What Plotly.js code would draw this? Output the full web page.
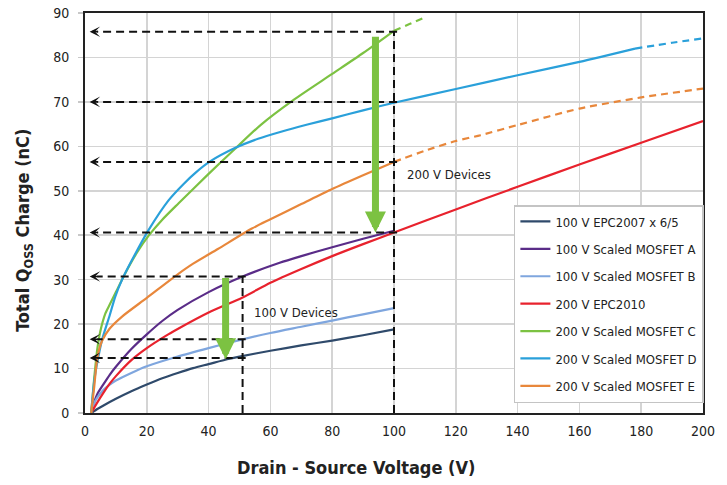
<!DOCTYPE html>
<html>
<head>
<meta charset="utf-8">
<script src="https://cdn.plot.ly/plotly-3.0.1.min.js"></script>
<style>html,body{margin:0;padding:0;background:#fff;}#chart{width:727px;height:485px;}</style>
</head>
<body>
<div id="chart"></div>
<script>
// ---- Data ----
const names = ["100 V EPC2007 x 6/5", "100 V Scaled MOSFET A", "100 V Scaled MOSFET B",
  "200 V EPC2010", "200 V Scaled MOSFET C", "200 V Scaled MOSFET D", "200 V Scaled MOSFET E"];

const epc2007X = [2, 4, 6, 10, 15, 20, 25, 30, 35, 40, 46, 50, 60, 70, 80, 90, 100];
const epc2007Y = [0, 0.9, 1.7, 3.2, 4.9, 6.4, 7.8, 9, 10.1, 11, 12.1, 12.7, 14, 15.2, 16.3, 17.5, 18.8];

const mosAX = [2, 3, 4, 6, 8, 10, 15, 20, 25, 30, 40, 51, 63, 70, 80, 90, 100];
const mosAY = [0, 2.5, 4.3, 6.5, 8.6, 10.4, 14.4, 17.7, 20.7, 23.2, 27.2, 30.7, 33.8, 35.3, 37.3, 39.2, 41];

const mosBX = [2, 3, 4, 6, 8, 10, 15, 20, 30, 40, 50, 60, 70, 80, 90, 100];
const mosBY = [0, 2.2, 3.5, 5.2, 6.4, 7.3, 9, 10.5, 12.7, 14.6, 16.4, 18, 19.4, 20.8, 22.2, 23.6];

const epc2010X = [2, 3, 4, 6, 8, 10, 15, 20, 26, 30, 40, 51, 60, 70, 80, 90, 100, 120, 140, 160, 180, 200];
const epc2010Y = [0, 1.2, 2.4, 4.6, 6.6, 8.3, 11.9, 14.6, 17.3, 18.9, 22.6, 26, 29.3, 32.4, 35.3, 38, 40.6, 45.8, 50.9, 55.9, 60.8, 65.7];

const mosCX = [2, 3, 4, 5, 6.6, 8, 10, 13, 17, 20.6, 25, 30.3, 40, 48.5, 57, 67.4, 80, 90, 100];
const mosCY = [0, 8, 14.5, 18.5, 22.4, 24.4, 27.2, 31.4, 36.3, 39.9, 43.5, 47.2, 53.8, 59.4, 64.9, 70.4, 76.3, 81, 86];
const mosCExtX = [100, 105, 110];
const mosCExtY = [86, 87.5, 89];

const mosDX = [2, 3, 4, 5.5, 8, 9.8, 12, 15.2, 20.6, 27.1, 32, 36, 40.5, 48.5, 56, 64, 72, 80, 90, 100, 120, 140, 160, 178];
const mosDY = [0, 7.3, 11.5, 16.4, 22, 26.2, 30, 34.4, 41.2, 47.9, 51.6, 54.2, 56.6, 59.6, 61.7, 63.4, 64.9, 66.3, 68.1, 69.8, 72.9, 76, 79, 82];
const mosDExtX = [178, 190, 200];
const mosDExtY = [82, 83.3, 84.3];

const mosEX = [2, 3, 4, 5.5, 8, 12, 20, 30, 35, 43, 54, 60, 70, 80, 90, 100];
const mosEY = [0, 6, 12.5, 16.2, 19, 21.7, 25.9, 31.2, 33.6, 36.9, 41.5, 43.6, 47, 50.4, 53.5, 56.5];
const mosEExtX = [100, 110, 120, 128, 140, 160, 180, 200];
const mosEExtY = [56.5, 59, 61.2, 62.5, 64.8, 68.5, 71, 73];

// guide lines (dashed arrows to the y axis)
const guideY = [85.8, 70, 56.5, 40.6, 30.7, 16.6, 12.4];
const guideXEnd = [101, 101, 101, 101, 52, 52, 52];
const guideTipX = 1.5;
const vGuideX = [100, 51];
const vGuideTop = [85.8, 30.7];

// green arrows
const bigArrowX = [94, 45.5];
const bigArrowFrom = [85, 30.7];
const bigArrowTo = [40.6, 12.1];

const labelText = ["200 V Devices", "100 V Devices"];
const labelX = [103.5, 54.2];
const labelY = [53.6, 22.7];

const xTicks = [0, 20, 40, 60, 80, 100, 120, 140, 160, 180, 200];
const yTicks = [0, 10, 20, 30, 40, 50, 60, 70, 80, 90];

// ---- Styles ----
const colors = ["#2f4a6b", "#5a2c88", "#7fa6de", "#e8222d", "#7cc242", "#2aa0da", "#e8873b"];
const FONT = "'DejaVu Sans Condensed', 'Liberation Sans Narrow', sans-serif";
const LW = 2.2;

function solid(i, x, y) {
  return {x: x, y: y, type: "scatter", mode: "lines", name: names[i],
    legendgroup: "g" + i, line: {color: colors[i], width: LW, shape: "spline", smoothing: 0.7}};
}
function dashed(i, x, y) {
  return {x: x, y: y, type: "scatter", mode: "lines", name: names[i], showlegend: false,
    legendgroup: "g" + i, hoverinfo: "skip",
    line: {color: colors[i], width: LW, dash: "7px,5px", shape: "spline", smoothing: 0.6}};
}

const traces = [
  solid(0, epc2007X, epc2007Y),
  solid(1, mosAX, mosAY),
  solid(2, mosBX, mosBY),
  solid(3, epc2010X, epc2010Y),
  solid(4, mosCX, mosCY),
  solid(5, mosDX, mosDY),
  solid(6, mosEX, mosEY),
  dashed(4, mosCExtX, mosCExtY),
  dashed(5, mosDExtX, mosDExtY),
  dashed(6, mosEExtX, mosEExtY)
];

const shapes = [];
guideY.forEach((y, i) => {
  shapes.push({type: "line", xref: "x", yref: "y", x0: guideXEnd[i], x1: guideTipX + 2.5, y0: y, y1: y,
    line: {color: "#111", width: 2, dash: "8px,5px"}});
});
vGuideX.forEach((x, i) => {
  shapes.push({type: "line", xref: "x", yref: "y", x0: x, x1: x, y0: 0, y1: vGuideTop[i],
    line: {color: "#111", width: 2, dash: "8px,5px"}});
});

const annotations = [];
guideY.forEach((y) => {
  annotations.push({x: guideTipX, y: y, xref: "x", yref: "y", ax: 10, ay: 0, text: "",
    showarrow: true, arrowhead: 3, arrowwidth: 1.6, arrowsize: 1.1, arrowcolor: "#111", standoff: 0});
});
bigArrowX.forEach((x, i) => {
  annotations.push({x: x, y: bigArrowTo[i], xref: "x", yref: "y", axref: "x", ayref: "y",
    ax: x, ay: bigArrowFrom[i], text: "", showarrow: true, arrowhead: 2, arrowwidth: 7,
    arrowsize: 0.6, arrowcolor: "#7cc242", standoff: 0});
});
labelText.forEach((t, i) => {
  annotations.push({x: labelX[i], y: labelY[i], xref: "x", yref: "y", text: t, showarrow: false,
    xanchor: "left", yanchor: "middle", font: {family: FONT, size: 13, color: "#222"}});
});
// axis titles
annotations.push({x: 0.4385, y: -0.135, xref: "paper", yref: "paper", showarrow: false,
  text: "<b>Drain - Source Voltage (V)</b>", xanchor: "center", yanchor: "middle",
  font: {family: FONT, size: 18, color: "#222"}});
annotations.push({x: -0.099, y: 0.4575, xref: "paper", yref: "paper", showarrow: false, textangle: -90,
  text: "<b>Total Q<sub>OSS</sub> Charge (nC)</b>", xanchor: "center", yanchor: "middle",
  font: {family: FONT, size: 18, color: "#222"}});

const layout = {
  width: 727, height: 485,
  margin: {l: 85, r: 24, t: 13, b: 72, autoexpand: false},
  paper_bgcolor: "#fff", plot_bgcolor: "#fff",
  font: {family: FONT, size: 14, color: "#222"},
  xaxis: {range: [0, 200], tickvals: xTicks, ticktext: xTicks.map(String), showgrid: true,
    automargin: false,
    gridcolor: "#d4d4d4", gridwidth: 1.5, showline: true, mirror: true, linecolor: "#222",
    linewidth: 2, zeroline: false, ticks: "", ticklabelstandoff: 4, tickfont: {size: 14}},
  yaxis: {range: [0, 90], tickvals: yTicks, ticktext: yTicks.map(String), showgrid: true,
    automargin: false,
    gridcolor: "#d4d4d4", gridwidth: 1.5, showline: true, mirror: true, linecolor: "#222",
    linewidth: 2, zeroline: false, ticks: "outside", ticklen: 5, tickcolor: "#c8c8c8",
    tickwidth: 1.5, ticklabelstandoff: 6, tickfont: {size: 14}},
  showlegend: true,
  legend: {x: 0.694, y: 0.52, xanchor: "left", yanchor: "top", bgcolor: "#fff",
    bordercolor: "#c4c4c4", borderwidth: 1.5, font: {family: FONT, size: 13, color: "#222"},
    traceorder: "grouped", tracegroupgap: 7.5},
  shapes: shapes,
  annotations: annotations
};

Plotly.newPlot("chart", traces, layout, {displayModeBar: false, staticPlot: true});
</script>
</body>
</html>
